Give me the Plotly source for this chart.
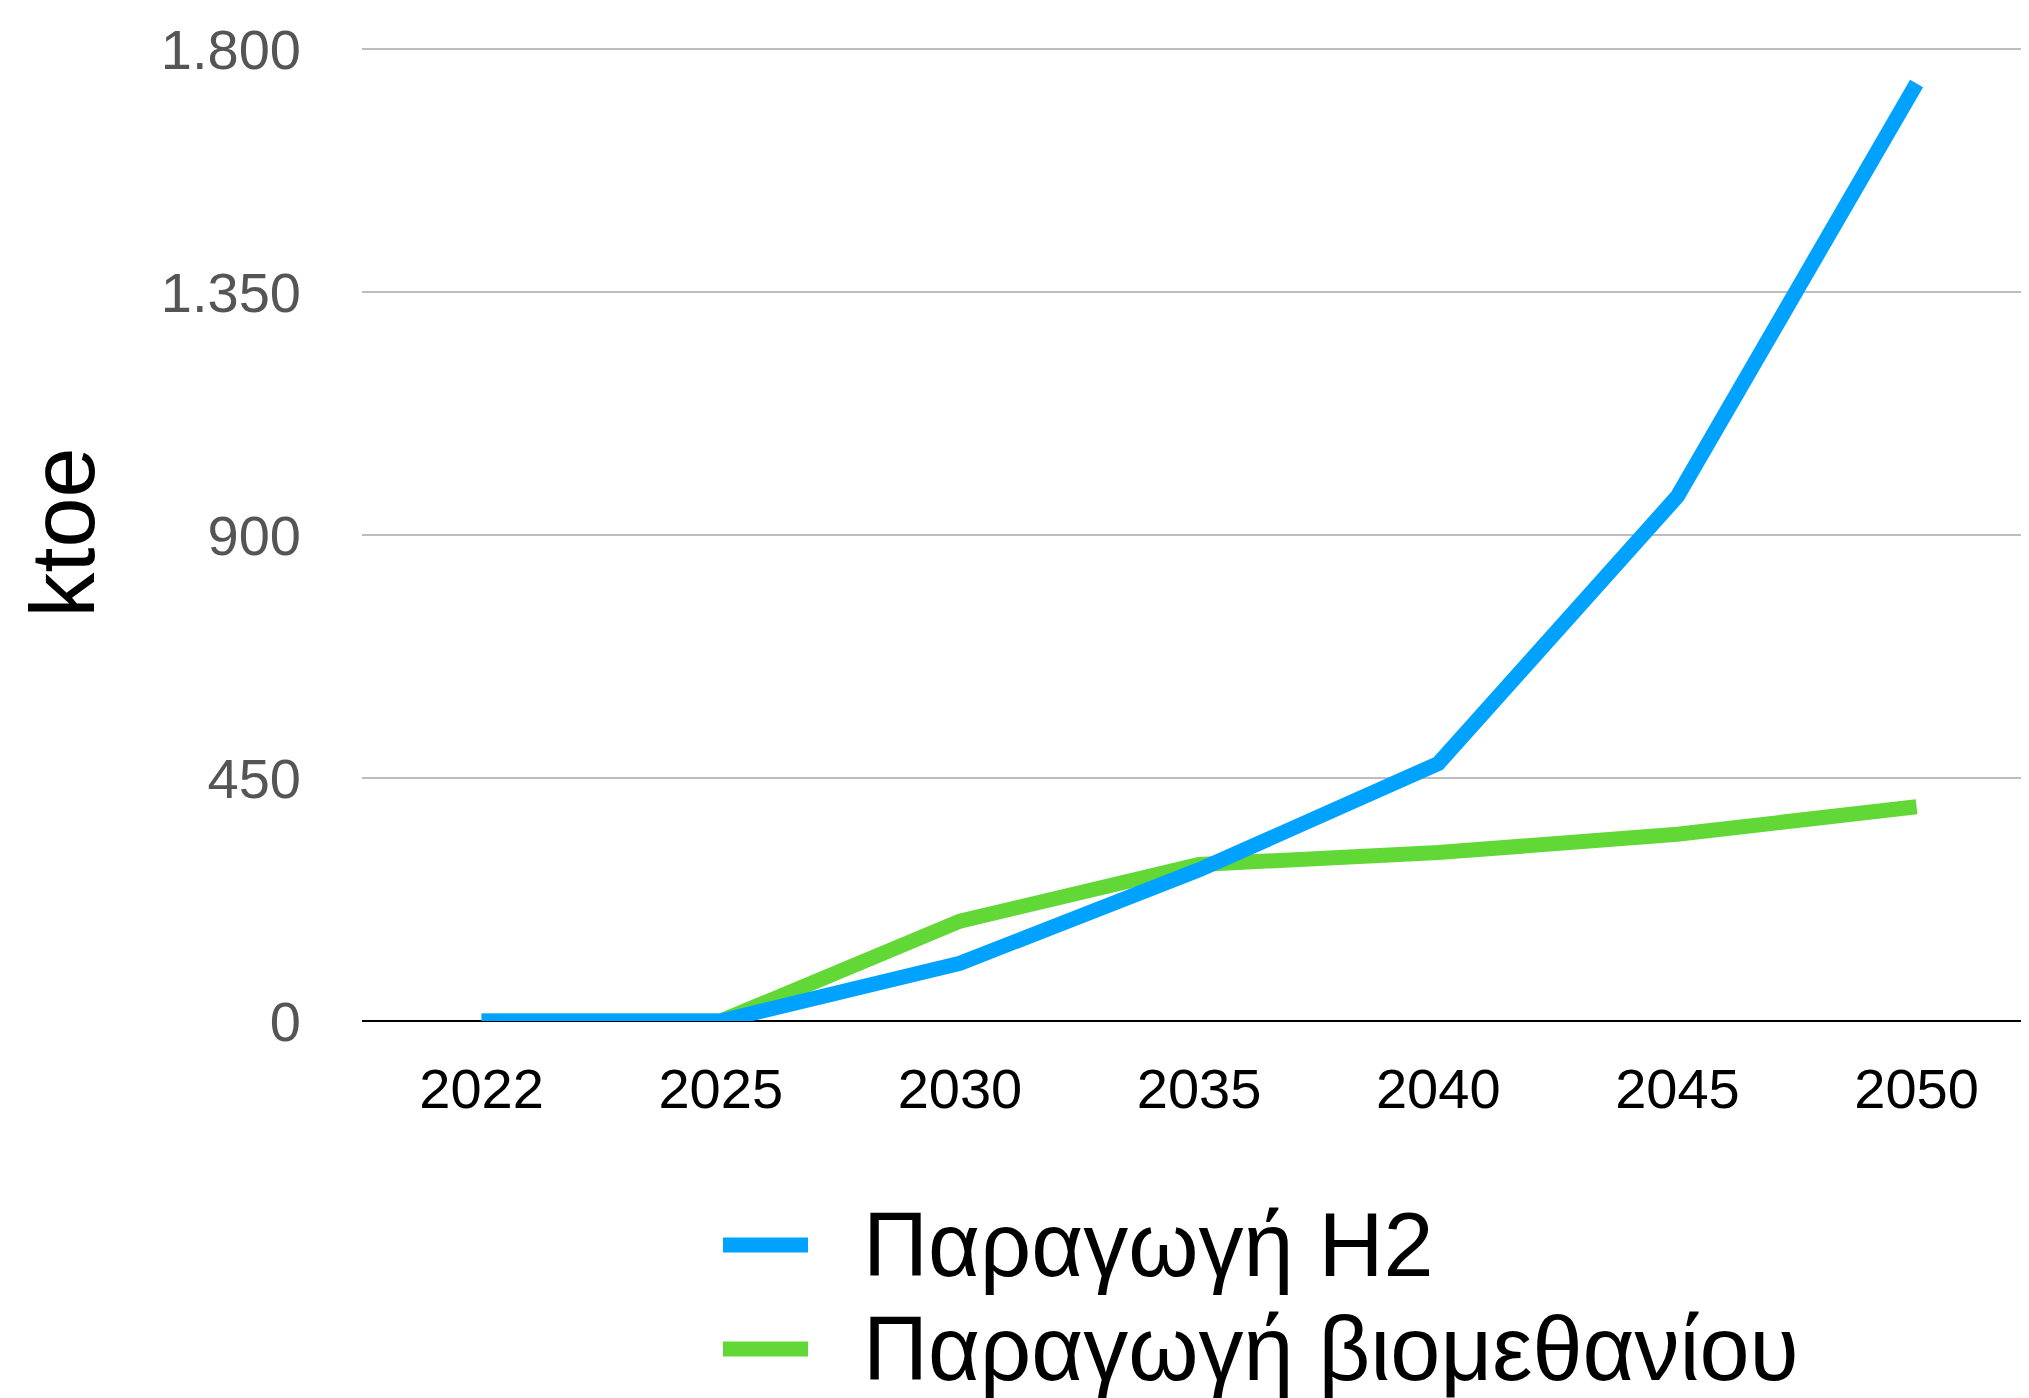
import plotly.graph_objects as go

years = ["2022", "2025", "2030", "2035", "2040", "2045", "2050"]
h2_values = [0, 0, 107, 280, 477, 972, 1737]
biomethane_values = [0, 0, 185, 290, 312, 346, 397]
series_names = ["Παραγωγή H2", "Παραγωγή βιομεθανίου"]
series_colors = ["#00A2FF", "#61D836"]
y_tick_vals = [0, 450, 900, 1350, 1800]
y_tick_text = ["0", "450", "900", "1.350", "1.800"]
y_title = "ktoe"

FONT = "Liberation Sans, Arial, Helvetica, sans-serif"
OFF = 8  # page body margin
W, H = 2029 - OFF, 1398 - OFF
ML, MR, MT, MB = 354, 0, 36, 377
Y_TOP = 1810

fig = go.Figure()
# green first so blue is drawn on top
fig.add_trace(go.Scatter(x=years, y=biomethane_values, mode="lines", name=series_names[1],
                         line=dict(color=series_colors[1], width=15), showlegend=False))
fig.add_trace(go.Scatter(x=years, y=h2_values, mode="lines", name=series_names[0],
                         line=dict(color=series_colors[0], width=15), showlegend=False))

fig.update_layout(
    width=W, height=H,
    margin=dict(l=ML, r=MR, t=MT, b=MB, pad=0),
    paper_bgcolor="white", plot_bgcolor="white",
    font=dict(family=FONT, color="black"),
    xaxis=dict(type="category", range=[-0.5, 6.47], showgrid=False, showline=False,
               zeroline=False, ticks="", tickfont=dict(size=56, color="black"),
               ticklabelstandoff=30),
    yaxis=dict(range=[0, Y_TOP], tickvals=y_tick_vals, ticktext=y_tick_text,
               showgrid=True, gridcolor="#BDBDBD", gridwidth=2,
               zeroline=True, zerolinecolor="black", zerolinewidth=2,
               showline=False, ticks="", tickfont=dict(size=56, color="#555555"),
               ticklabelstandoff=60,
               title=dict(text=y_title, font=dict(size=90, color="black"), standoff=36)),
)

# custom legend (long line swatches); positions given in page pixels
plot_h = H - MT - MB
plot_w = W - ML - MR
def px_to_paper_x(px):
    return (px - OFF - ML) / plot_w
def px_to_paper_y(py):
    return ((H - MB) - (py - OFF)) / plot_h

legend_rows_y = [1245, 1349]
for name, color, ry in zip(series_names, series_colors, legend_rows_y):
    fig.add_shape(type="line", xref="paper", yref="paper",
                  x0=px_to_paper_x(723), x1=px_to_paper_x(808),
                  y0=px_to_paper_y(ry), y1=px_to_paper_y(ry),
                  line=dict(color=color, width=15))
    fig.add_annotation(xref="paper", yref="paper", x=px_to_paper_x(861), y=px_to_paper_y(ry),
                       xanchor="left", yanchor="middle", showarrow=False,
                       text=name, font=dict(size=90, color="black", family=FONT))

fig.write_html("out.html")
